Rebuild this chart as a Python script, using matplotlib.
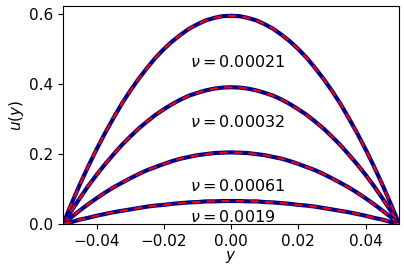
import matplotlib
matplotlib.use('Agg')
import matplotlib.pyplot as plt

# y positions across the channel (left half, the right half is the mirror)
y_half = [-0.05, -0.0475, -0.045, -0.0425, -0.04, -0.0375, -0.035, -0.0325, -0.03, -0.0275,
          -0.025, -0.0225, -0.02, -0.0175, -0.015, -0.0125, -0.01, -0.0075, -0.005, -0.0025, 0.0]

# velocity profiles (left half, wall -> centre)
half_1 = [0.0, 0.058, 0.113, 0.165, 0.214, 0.260, 0.303, 0.344, 0.381, 0.415, 0.446,
          0.475, 0.500, 0.522, 0.541, 0.558, 0.571, 0.582, 0.589, 0.594, 0.595]
half_2 = [0.0, 0.038, 0.074, 0.109, 0.141, 0.171, 0.199, 0.226, 0.250, 0.273, 0.293,
          0.312, 0.328, 0.343, 0.356, 0.367, 0.375, 0.382, 0.387, 0.390, 0.391]
half_3 = [0.0, 0.020, 0.039, 0.057, 0.074, 0.090, 0.105, 0.118, 0.131, 0.143, 0.154,
          0.163, 0.172, 0.180, 0.187, 0.192, 0.197, 0.200, 0.203, 0.204, 0.205]
half_4 = [0.0, 0.006, 0.013, 0.018, 0.024, 0.029, 0.034, 0.038, 0.042, 0.046, 0.050,
          0.053, 0.055, 0.058, 0.060, 0.062, 0.063, 0.065, 0.065, 0.066, 0.066]

y = y_half + [-v for v in y_half[-2::-1]]
profiles = [h + h[-2::-1] for h in (half_1, half_2, half_3, half_4)]

labels = [r'$\nu = 0.00021$', r'$\nu = 0.00032$', r'$\nu = 0.00061$', r'$\nu = 0.0019$']
label_y = [0.449, 0.277, 0.094, 0.006]
label_x = -0.0122

fig = plt.figure(figsize=(4.04, 2.73), dpi=100)
ax = fig.add_axes([0.156, 0.179, 0.832, 0.799])

for u in profiles:
    ax.plot(y, u, color='#000088', lw=3.0)
    ax.plot(y, u, color='red', lw=1.5, linestyle=(0, (4, 3)))

for lab, ly in zip(labels, label_y):
    ax.text(label_x, ly, lab, fontsize=11.5, va='baseline', ha='left')

ax.set_xlim(-0.05, 0.05)
ax.set_ylim(0, 0.623)
ax.set_xticks([-0.04, -0.02, 0.0, 0.02, 0.04])
ax.set_yticks([0.0, 0.2, 0.4, 0.6])
ax.tick_params(labelsize=11)
ax.set_xlabel(r'$y$', fontsize=11, labelpad=0)
ax.set_ylabel(r'$u(y)$', fontsize=11, labelpad=2)

fig.savefig('out.png', dpi=100)
